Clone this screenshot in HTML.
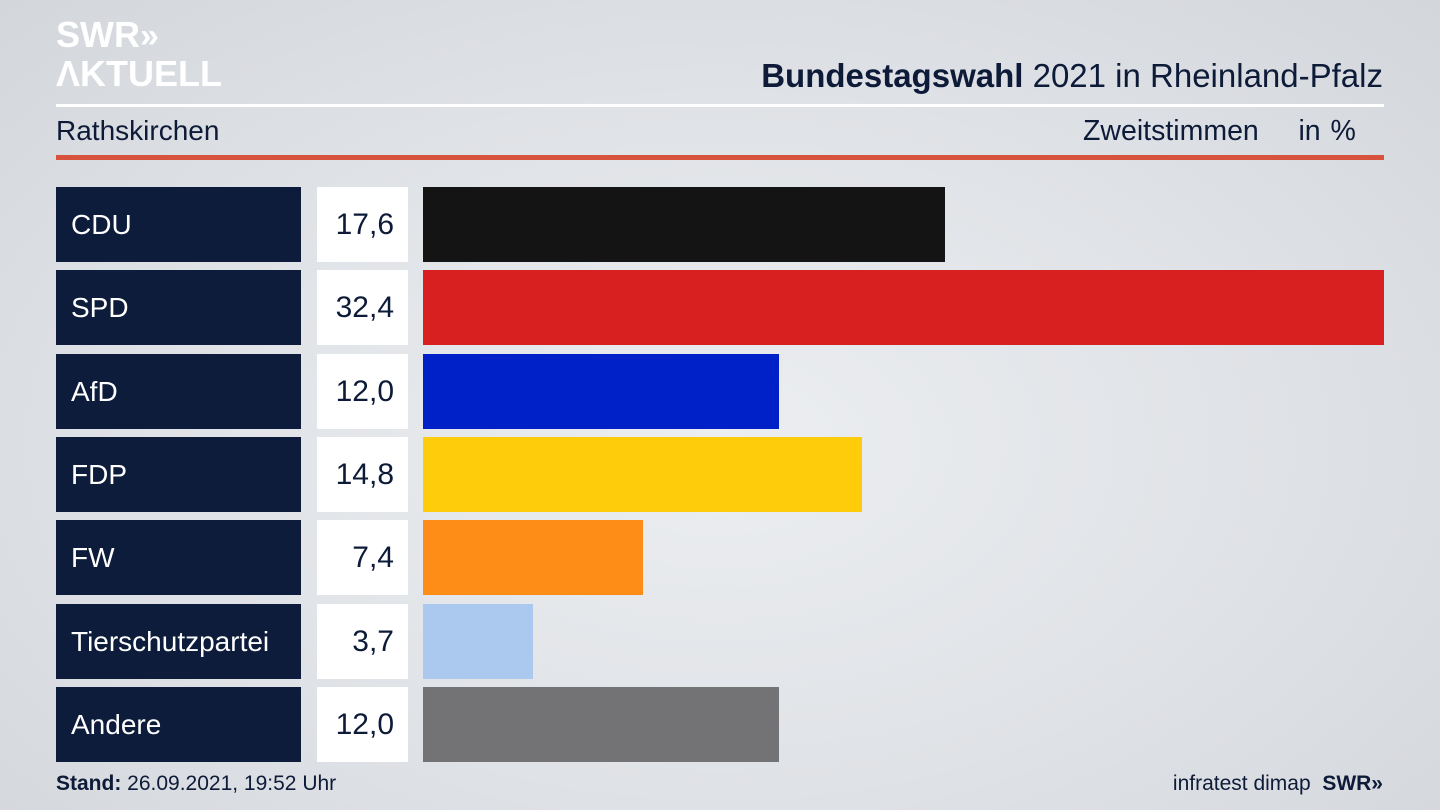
<!DOCTYPE html><html><head><meta charset="utf-8"><style>
body{margin:0;width:1440px;height:810px;overflow:hidden;font-family:"Liberation Sans","DejaVu Sans",sans-serif;background:radial-gradient(ellipse at 50% 55%,#eceef1 0%,#dfe2e6 55%,#d3d6db 100%);position:relative;color:#0d1b38}
.a{position:absolute}
.lb{position:absolute;left:56px;width:245px;height:75px;background:#0c1c3a;color:#fff;font-size:28px;line-height:75px;box-sizing:border-box;padding-left:15px}
.vb{position:absolute;left:317px;width:91px;height:75px;background:#fff;color:#0d1b38;font-size:30px;line-height:75px;text-align:right;box-sizing:border-box;padding-right:14px}
.br{position:absolute;left:423px;height:75px}
</style></head><body>
<div class="a" style="left:56px;top:16px;color:#fff;font-weight:bold;font-size:36px;line-height:37px;letter-spacing:0px">SWR<span style="font-size:34px">»</span><br>ΛKTUELL</div>
<div class="a" style="right:57px;top:57px;font-size:33px"><b>Bundestagswahl</b> 2021 in Rheinland-Pfalz</div>
<div class="a" style="left:56px;top:104px;width:1328px;height:3px;background:#fff"></div>
<div class="a" style="left:56px;top:115px;font-size:28px">Rathskirchen</div>
<div class="a" style="left:1083px;top:115px;font-size:28.5px;word-spacing:2px">Zweitstimmen&nbsp;&nbsp;&nbsp;&nbsp;in %</div>
<div class="a" style="left:56px;top:155px;width:1328px;height:5px;background:#d8533c"></div>

<div class="lb" style="top:187px">CDU</div><div class="vb" style="top:187px">17,6</div><div class="br" style="top:187px;width:522px;background:#141414"></div>
<div class="lb" style="top:270px">SPD</div><div class="vb" style="top:270px">32,4</div><div class="br" style="top:270px;width:961px;background:#d82020"></div>
<div class="lb" style="top:354px">AfD</div><div class="vb" style="top:354px">12,0</div><div class="br" style="top:354px;width:356px;background:#0021c8"></div>
<div class="lb" style="top:437px">FDP</div><div class="vb" style="top:437px">14,8</div><div class="br" style="top:437px;width:439px;background:#fecc0a"></div>
<div class="lb" style="top:520px">FW</div><div class="vb" style="top:520px">7,4</div><div class="br" style="top:520px;width:220px;background:#fd8d17"></div>
<div class="lb" style="top:604px">Tierschutzpartei</div><div class="vb" style="top:604px">3,7</div><div class="br" style="top:604px;width:110px;background:#abc8ef"></div>
<div class="lb" style="top:687px">Andere</div><div class="vb" style="top:687px">12,0</div><div class="br" style="top:687px;width:356px;background:#737375"></div>

<div class="a" style="left:56px;top:772px;font-size:21px"><b>Stand:</b> 26.09.2021, 19:52 Uhr</div>
<div class="a" style="right:57px;top:772px;font-size:21px">infratest dimap&nbsp;&nbsp;<b>SWR»</b></div>
</body></html>
